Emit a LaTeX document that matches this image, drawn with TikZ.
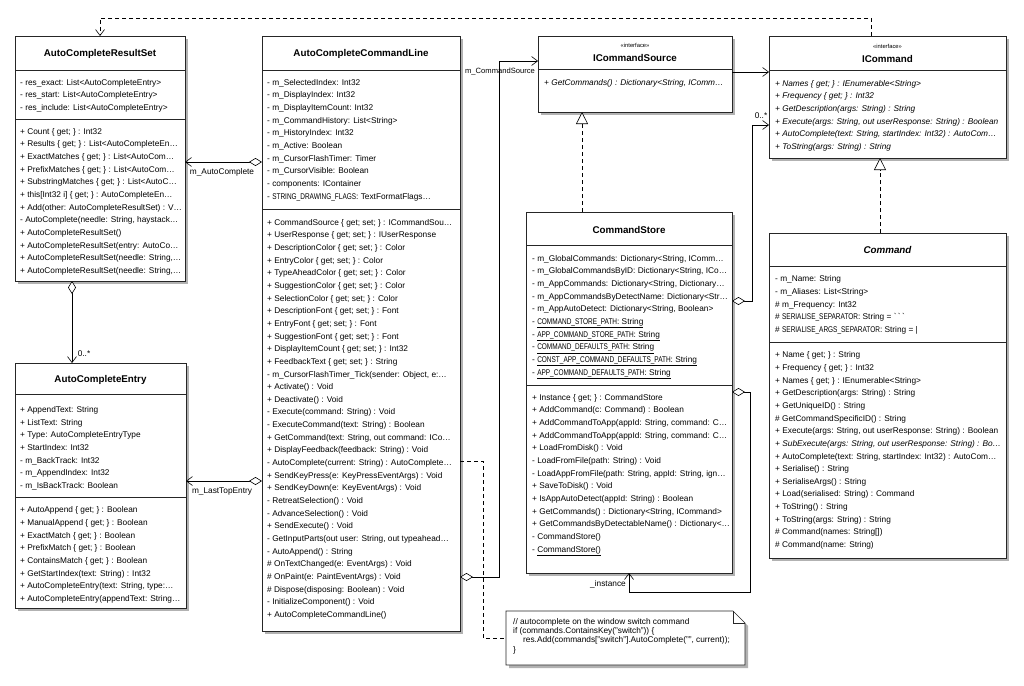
\documentclass[tikz,border=0pt]{standalone}
\usepackage{fontspec}
\setmainfont{Liberation Sans}
\newfontfamily\capsfont[FakeStretch=0.78]{Liberation Sans}
\usetikzlibrary{arrows.meta,calc,shadows}

\tikzset{
  classbox/.style={draw=black!85, fill=white, line width=0.8pt, inner sep=0pt, outer sep=0pt,
    anchor=north west, drop shadow={shadow xshift=3pt, shadow yshift=-3pt, fill=black!30, opacity=1}},
  classline/.style={draw=black!85, line width=0.7pt},
  member/.style={anchor=base west, inner sep=0pt, font=\fontsize{8.3}{10}\selectfont},
  classtitle/.style={inner sep=0pt, font=\bfseries\fontsize{9.8}{11}\selectfont},
  stereo/.style={inner sep=0pt, font=\fontsize{5.8}{6}\selectfont},
  role/.style={inner sep=0pt, font=\fontsize{8.3}{10}\selectfont},
  assoc/.style={line width=0.6pt, {Diamond[length=13pt,width=8pt,fill=white]}-{Straight Barb[length=6pt,width=9pt]}},
  navi/.style={line width=0.6pt, -{Straight Barb[length=6pt,width=9pt]}},
  depend/.style={line width=0.6pt, dash pattern=on 4pt off 3pt, -{Straight Barb[length=6pt,width=9pt]}},
  notelink/.style={line width=0.6pt, dash pattern=on 4pt off 3pt},
  realize/.style={line width=0.6pt, dash pattern=on 4pt off 3pt, -{Triangle[open,length=12pt,width=12pt,fill=white]}},
}

% rows of a compartment: box, x offset, first baseline, list
\newcommand{\members}[4]{%
  \foreach \t [count=\i from 0] in {#4}
    \node[member] at ($(#1.north west)+(#2,{#3+12.65*\i})$) {\t};}
\newcommand{\divider}[2]{\draw[classline] (#1.west |- 0,#2) -- (#1.east |- 0,#2);}
% upper-case identifiers are set narrow
\newcommand{\cw}[1]{{\capsfont #1}}

\begin{document}
\begin{tikzpicture}[x=1pt,y=-1pt]
  \useasboundingbox (0,0) rectangle (1024,685);
  \fill[white] (0,0) rectangle (1024,685);

  % AutoCompleteResultSet
  \node[classbox, minimum width=170pt, minimum height=245pt] (rs) at (15,36) {};
  \node[classtitle] (rs-t) at ($(rs.north)+(0,18)$) {AutoCompleteResultSet};
  \divider{rs}{70}
  \divider{rs}{119}
  \members{rs}{5}{49.2}{{- res\_exact: List<AutoCompleteEntry>},{- res\_start: List<AutoCompleteEntry>},
    {- res\_include: List<AutoCompleteEntry>}}
  \members{rs}{5}{98.2}{{+ Count \{ get; \} : Int32},{+ Results \{ get; \} : List<AutoCompleteEn…},
    {+ ExactMatches \{ get; \} : List<AutoCom…},{+ PrefixMatches \{ get; \} : List<AutoCom…},
    {+ SubstringMatches \{ get; \} : List<AutoC…},{+ this[Int32 i] \{ get; \} : AutoCompleteEn…},
    {+ Add(other: AutoCompleteResultSet) : V…},{- AutoComplete(needle: String, haystack…},
    {+ AutoCompleteResultSet()},{+ AutoCompleteResultSet(entry: AutoCo…},
    {+ AutoCompleteResultSet(needle: String,…},{+ AutoCompleteResultSet(needle: String,…}}

  % AutoCompleteEntry
  \node[classbox, minimum width=171pt, minimum height=245pt] (ace) at (15,363) {};
  \node[classtitle] (ace-t) at ($(ace.north)+(0,17)$) {AutoCompleteEntry};
  \divider{ace}{394}
  \divider{ace}{497}
  \members{ace}{5}{49.5}{{+ AppendText: String},{+ ListText: String},{+ Type: AutoCompleteEntryType},
    {+ StartIndex: Int32},{- m\_BackTrack: Int32},{- m\_AppendIndex: Int32},{- m\_IsBackTrack: Boolean}}
  \members{ace}{5}{149.8}{{+ AutoAppend \{ get; \} : Boolean},{+ ManualAppend \{ get; \} : Boolean},
    {+ ExactMatch \{ get; \} : Boolean},{+ PrefixMatch \{ get; \} : Boolean},
    {+ ContainsMatch \{ get; \} : Boolean},{+ GetStartIndex(text: String) : Int32},
    {+ AutoCompleteEntry(text: String, type:…},{+ AutoCompleteEntry(appendText: String…}}

  % AutoCompleteCommandLine
  \node[classbox, minimum width=198pt, minimum height=595pt] (accl) at (262,36) {};
  \node[classtitle] (accl-t) at ($(accl.north)+(0,18)$) {AutoCompleteCommandLine};
  \divider{accl}{70}
  \divider{accl}{209}
  \members{accl}{5}{49.2}{{- m\_SelectedIndex: Int32},{- m\_DisplayIndex: Int32},
    {- m\_DisplayItemCount: Int32},{- m\_CommandHistory: List<String>},{- m\_HistoryIndex: Int32},
    {- m\_Active: Boolean},{- m\_CursorFlashTimer: Timer},{- m\_CursorVisible: Boolean},
    {- components: IContainer},{- \cw{STRING\_DRAWING\_FLAGS}: TextFormatFlags…}}
  \members{accl}{5}{189.2}{{+ CommandSource \{ get; set; \} : ICommandSou…},
    {+ UserResponse \{ get; set; \} : IUserResponse},{+ DescriptionColor \{ get; set; \} : Color},
    {+ EntryColor \{ get; set; \} : Color},{+ TypeAheadColor \{ get; set; \} : Color},
    {+ SuggestionColor \{ get; set; \} : Color},{+ SelectionColor \{ get; set; \} : Color},
    {+ DescriptionFont \{ get; set; \} : Font},{+ EntryFont \{ get; set; \} : Font},
    {+ SuggestionFont \{ get; set; \} : Font},{+ DisplayItemCount \{ get; set; \} : Int32},
    {+ FeedbackText \{ get; set; \} : String},{- m\_CursorFlashTimer\_Tick(sender: Object, e:…},
    {+ Activate() : Void},{+ Deactivate() : Void},{- Execute(command: String) : Void},
    {- ExecuteCommand(text: String) : Boolean},{+ GetCommand(text: String, out command: ICo…},
    {+ DisplayFeedback(feedback: String) : Void},{- AutoComplete(current: String) : AutoComplete…},
    {+ SendKeyPress(e: KeyPressEventArgs) : Void},{+ SendKeyDown(e: KeyEventArgs) : Void},
    {- RetreatSelection() : Void},{- AdvanceSelection() : Void},{+ SendExecute() : Void},
    {- GetInputParts(out user: String, out typeahead…},{- AutoAppend() : String},
    {\# OnTextChanged(e: EventArgs) : Void},{\# OnPaint(e: PaintEventArgs) : Void},
    {\# Dispose(disposing: Boolean) : Void},{- InitializeComponent() : Void},
    {+ AutoCompleteCommandLine()}}

  % ICommandSource
  \node[classbox, minimum width=194pt, minimum height=76pt] (ics) at (538,36) {};
  \node[stereo] at ($(ics.north)+(0,9.5)$) {«interface»};
  \node[classtitle] (ics-t) at ($(ics.north)+(0,22)$) {ICommandSource};
  \divider{ics}{69}
  \members{ics}{6}{49.2}{{\itshape + GetCommands() : Dictionary<String, IComm…}}

  % ICommand
  \node[classbox, minimum width=237pt, minimum height=122pt] (icmd) at (769,36) {};
  \node[stereo] at ($(icmd.north)+(0,10.5)$) {«interface»};
  \node[classtitle] (icmd-t) at ($(icmd.north)+(0,22.5)$) {ICommand};
  \divider{icmd}{70.5}
  \members{icmd}{6}{50.2}{{\itshape + Names \{ get; \} : IEnumerable<String>},
    {\itshape + Frequency \{ get; \} : Int32},{\itshape + GetDescription(args: String) : String},
    {\itshape + Execute(args: String, out userResponse: String) : Boolean},
    {\itshape + AutoComplete(text: String, startIndex: Int32) : AutoCom…},
    {\itshape + ToString(args: String) : String}}

  % CommandStore
  \node[classbox, minimum width=206pt, minimum height=361pt] (cs) at (526,212) {};
  \node[classtitle] (cs-t) at ($(cs.north)+(0,18)$) {CommandStore};
  \divider{cs}{245}
  \divider{cs}{385}
  \members{cs}{6}{49.2}{{- m\_GlobalCommands: Dictionary<String, IComm…},
    {- m\_GlobalCommandsByID: Dictionary<String, ICo…},
    {- m\_AppCommands: Dictionary<String, Dictionary…},
    {- m\_AppCommandsByDetectName: Dictionary<Str…},
    {- m\_AppAutoDetect: Dictionary<String, Boolean>},
    {- \underline{\cw{COMMAND\_STORE\_PATH}: String}},{- \underline{\cw{APP\_COMMAND\_STORE\_PATH}: String}},
    {- \underline{\cw{COMMAND\_DEFAULTS\_PATH}: String}},
    {- \underline{\cw{CONST\_APP\_COMMAND\_DEFAULTS\_PATH}: String}},
    {- \underline{\cw{APP\_COMMAND\_DEFAULTS\_PATH}: String}}}
  \members{cs}{6}{188.2}{{+ Instance \{ get; \} : CommandStore},{+ AddCommand(c: Command) : Boolean},
    {+ AddCommandToApp(appId: String, command: C…},{+ AddCommandToApp(appId: String, command: C…},
    {+ LoadFromDisk() : Void},{- LoadFromFile(path: String) : Void},
    {- LoadAppFromFile(path: String, appId: String, ign…},{+ SaveToDisk() : Void},
    {+ IsAppAutoDetect(appId: String) : Boolean},{+ GetCommands() : Dictionary<String, ICommand>},
    {+ GetCommandsByDetectableName() : Dictionary<…},{- CommandStore()},
    {- \underline{CommandStore()}}}

  % Command
  \node[classbox, minimum width=237pt, minimum height=325pt] (cmd) at (769,233) {};
  \node[classtitle, font=\bfseries\itshape\fontsize{9.8}{11}\selectfont] (cmd-t) at ($(cmd.north)+(0,17)$) {Command};
  \divider{cmd}{266.7}
  \divider{cmd}{342.3}
  \members{cmd}{6}{48.8}{{- m\_Name: String},{- m\_Aliases: List<String>},{\# m\_Frequency: Int32},
    {\# \cw{SERIALISE\_SEPARATOR}: String = \textasciigrave\,\textasciigrave\,\textasciigrave},
    {\# \cw{SERIALISE\_ARGS\_SEPARATOR}: String = |}}
  \members{cmd}{6}{124.8}{{+ Name \{ get; \} : String},{+ Frequency \{ get; \} : Int32},
    {+ Names \{ get; \} : IEnumerable<String>},{+ GetDescription(args: String) : String},
    {+ GetUniqueID() : String},{\# GetCommandSpecificID() : String},
    {+ Execute(args: String, out userResponse: String) : Boolean},
    {\itshape + SubExecute(args: String, out userResponse: String) : Bo…},
    {+ AutoComplete(text: String, startIndex: Int32) : AutoCom…},{+ Serialise() : String},
    {+ SerialiseArgs() : String},{+ Load(serialised: String) : Command},{+ ToString() : String},
    {+ ToString(args: String) : String},{\# Command(names: String[])},{\# Command(name: String)}}

  % note
  \node[inner sep=0pt, outer sep=0pt, anchor=north west, minimum width=239pt, minimum height=54pt] (note) at (506,611) {};
  \draw[classline, fill=white, drop shadow={shadow xshift=3pt, shadow yshift=-3pt, fill=black!30, opacity=1}]
    (note.north west) -- ([xshift=-12pt]note.north east) -- ([yshift=-12pt]note.north east)
    -- (note.south east) -- (note.south west) -- cycle;
  \draw[classline] ([xshift=-12pt]note.north east) -- ++(0,12) -- ++(12,0);
  \node[inner sep=0pt, anchor=north west, align=left, font=\fontsize{8.3}{9.3}\selectfont] (note-t) at (513,618)
    {// autocomplete on the window switch command\\
     if (commands.ContainsKey("switch")) \{\\
     \hspace*{10pt}res.Add(commands["switch"].AutoComplete("", current));\\
     \}};

  % connectors
  \draw[depend] (icmd.north -| 871,0) -- ++(0,-18) -| (rs.north);
  \draw[assoc] (accl.west |- 0,162) -- (rs.east |- 0,162);
  \node[role] (lab-ac) at (222,172) {m\_AutoComplete};
  \draw[assoc] (rs.south -| 72,0) -- (ace.north -| 72,0);
  \node[role] (lab-ace) at (84,354) {0..*};
  \draw[assoc] (accl.west |- 0,481) -- (ace.east |- 0,481);
  \node[role] (lab-lte) at (222,491) {m\_LastTopEntry};
  \draw[assoc] (accl.east |- 0,577) -- ++(39,0) |- (ics.west |- 0,61);
  \node[role, font=\fontsize{7.6}{9}\selectfont] (lab-cs) at (500,71.5) {m\_CommandSource};
  \draw[navi] (ics.east |- 0,72) -- (icmd.west |- 0,72);
  \draw[assoc] (cs.east |- 0,301) -- ++(20,0) |- (icmd.west |- 0,125);
  \node[role] (lab-ic) at (761,116) {0..*};
  \draw[assoc] (cs.east |- 0,392) -- ++(18,0) -- ++(0,200) -| (cs.south -| 629,0);
  \node[role] (lab-inst) at (608,584) {\_instance};
  \draw[realize] (cs.north -| 582,0) -- (ics.south -| 582,0);
  \draw[realize] (cmd.north -| 880,0) -- (icmd.south -| 880,0);
  \draw[notelink] (accl.east |- 0,461) -- ++(23,0) |- (note.west);
\end{tikzpicture}
\end{document}
